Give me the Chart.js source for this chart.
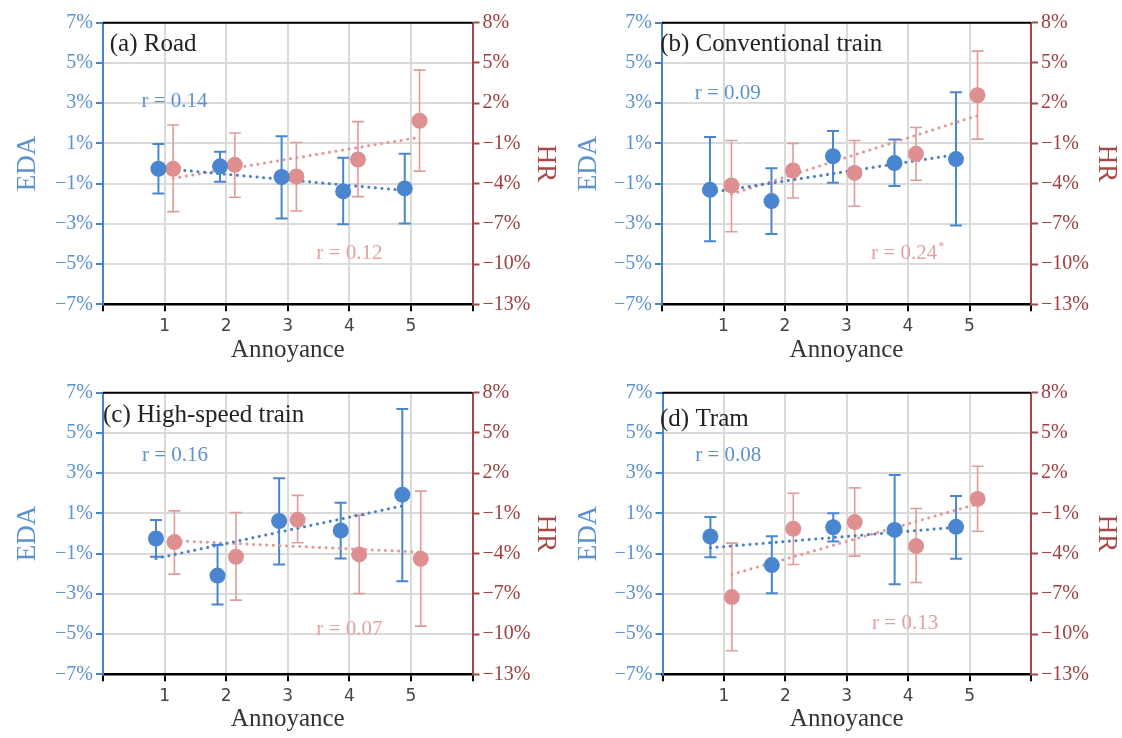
<!DOCTYPE html>
<html>
<head>
<meta charset="utf-8">
<script src="https://cdn.jsdelivr.net/npm/chart.js@4.4.1/dist/chart.umd.min.js"></script>
<style>
  html, body { margin: 0; padding: 0; background: #ffffff; }
  #wrap { position: relative; width: 1122px; height: 738px; overflow: hidden; }
  .panel { position: absolute; width: 561px; height: 369px; }
  .panel canvas { display: block; }
</style>
</head>
<body>
<div id="wrap">
  <div class="panel" style="left:0px;top:0px"><canvas id="road" width="561" height="369"></canvas></div>
  <div class="panel" style="left:561px;top:0px"><canvas id="conv" width="561" height="369"></canvas></div>
  <div class="panel" style="left:0px;top:369px"><canvas id="hst" width="561" height="369"></canvas></div>
  <div class="panel" style="left:561px;top:369px"><canvas id="tram" width="561" height="369"></canvas></div>
</div>
<script>
// Annoyance levels and axis ranges
const annoyance = [1, 2, 3, 4, 5];
const edaRange = [-7, 7];
const hrRange = [-13, 8];

// (a) Road
const roadEda = [-0.26, -0.14, -0.67, -1.39, -1.24];
const roadEdaLow = [-1.49, -0.91, -2.73, -3.02, -2.98];
const roadEdaHigh = [0.97, 0.59, 1.35, 0.29, 0.49];
const roadHr = [-2.90, -2.60, -3.47, -2.20, 0.69];
const roadHrLow = [-6.09, -5.02, -6.04, -4.97, -3.07];
const roadHrHigh = [0.37, -0.23, -0.93, 0.62, 4.46];
const roadEdaFit = [-0.23, -1.34];
const roadHrFit = [-3.60, -0.55];
const roadR = ['0.14', '0.12'];

// (b) Conventional train
const convEda = [-1.31, -1.87, 0.36, 0.02, 0.22];
const convEdaLow = [-3.86, -3.51, -0.96, -1.12, -3.08];
const convEdaHigh = [1.32, -0.23, 1.62, 1.19, 3.54];
const convHr = [-4.14, -3.02, -3.20, -1.78, 2.59];
const convHrLow = [-7.59, -5.07, -5.69, -3.75, -0.68];
const convHrHigh = [-0.78, -1.00, -0.78, 0.19, 5.88];
const convEdaFit = [-1.44, 0.44];
const convHrFit = [-4.79, 1.07];
const convR = ['0.09', '0.24'];

// (c) High-speed train
const hstEda = [-0.25, -2.09, 0.62, 0.15, 1.93];
const hstEdaLow = [-1.16, -3.53, -1.54, -1.24, -2.37];
const hstEdaHigh = [0.67, -0.56, 2.75, 1.53, 6.19];
const hstHr = [-3.14, -4.24, -1.48, -4.06, -4.39];
const hstHrLow = [-5.53, -7.47, -3.19, -6.98, -9.41];
const hstHrHigh = [-0.81, -0.93, 0.34, -1.15, 0.66];
const hstEdaFit = [-1.24, 1.37];
const hstHrFit = [-3.04, -3.89];
const hstR = ['0.16', '0.07'];

// (d) Tram
const tramEda = [-0.15, -1.57, 0.31, 0.18, 0.33];
const tramEdaLow = [-1.18, -2.97, -0.40, -2.52, -1.26];
const tramEdaHigh = [0.82, -0.14, 1.01, 2.91, 1.87];
const tramHr = [-7.24, -2.15, -1.65, -3.44, 0.08];
const tramHrLow = [-11.24, -4.81, -4.19, -6.15, -2.33];
const tramHrHigh = [-3.22, 0.50, 0.90, -0.64, 2.51];
const tramEdaFit = [-0.71, 0.31];
const tramHrFit = [-5.55, -0.29];
const tramR = ['0.08', '0.13'];

// Colours and fonts
const SERIF = '"Liberation Serif", "Times New Roman", serif';
const SANS = '"DejaVu Sans", "Liberation Sans", sans-serif';
const BLUE_AXIS = '#4a83c6';
const BLUE_TEXT = '#5b91d0';
const BLUE_MARK = '#4a86cf';
const BLUE_FIT = '#4a7fc6';
const RED_AXIS = '#a24848';
const RED_TEXT = '#9e4040';
const PINK_MARK = '#de9090';
const PINK_BAR = '#e09c9c';
const PINK_FIT = '#e39898';
const PINK_TEXT = '#e2a2a2';
const GRID = '#dadada';

const pct = v => (v < 0 ? '\u2212' + Math.abs(v) : String(v)) + '%';

// Vertical error bars with caps, drawn underneath the markers
const errorBars = {
  id: 'errorBars',
  beforeDatasetsDraw(chart) {
    const ctx = chart.ctx;
    chart.data.datasets.forEach((ds, i) => {
      if (!ds.errorLow) return;
      const meta = chart.getDatasetMeta(i);
      const xs = chart.scales[meta.xAxisID];
      const ys = chart.scales[meta.yAxisID];
      ctx.save();
      ctx.strokeStyle = ds.errorColor;
      ctx.lineWidth = ds.errorWidth;
      ds.data.forEach((pt, j) => {
        const px = xs.getPixelForValue(pt.x);
        const lo = ys.getPixelForValue(ds.errorLow[j]);
        const hi = ys.getPixelForValue(ds.errorHigh[j]);
        ctx.beginPath();
        ctx.moveTo(px, lo); ctx.lineTo(px, hi);
        ctx.moveTo(px - 6, lo); ctx.lineTo(px + 6, lo);
        ctx.moveTo(px - 6, hi); ctx.lineTo(px + 6, hi);
        ctx.stroke();
      });
      ctx.restore();
    });
  }
};

// Black top frame line of the plot area
const topFrame = {
  id: 'topFrame',
  afterDatasetsDraw(chart) {
    const { ctx, chartArea: a } = chart;
    ctx.save();
    ctx.strokeStyle = '#000';
    ctx.lineWidth = 2;
    ctx.beginPath();
    ctx.moveTo(a.left, a.top);
    ctx.lineTo(a.right, a.top);
    ctx.stroke();
    ctx.restore();
  }
};

// Panel title and correlation labels, placed in data coordinates
const panelText = {
  id: 'panelText',
  afterDraw(chart, args, opts) {
    const ctx = chart.ctx;
    const xs = chart.scales.x, ys = chart.scales.y;
    ctx.save();
    ctx.textBaseline = 'middle';
    (opts.items || []).forEach(it => {
      ctx.font = it.size + 'px ' + SERIF;
      ctx.fillStyle = it.color;
      ctx.textAlign = it.align || 'center';
      const px = xs.getPixelForValue(it.x);
      const py = ys.getPixelForValue(it.y);
      ctx.fillText(it.text, px, py);
      if (it.sup) {
        const w = ctx.measureText(it.text).width;
        const startX = it.align === 'left' ? px : px - w / 2;
        ctx.font = Math.round(it.size * 0.55) + 'px ' + SERIF;
        ctx.textAlign = 'left';
        ctx.fillText(it.sup, startX + w + 1, py - it.size * 0.3);
      }
    });
    ctx.restore();
  }
};

function buildPanel(canvasId, d, p) {
  const shifted = (vals, shift) => annoyance.map((a, i) => ({ x: a + shift, y: vals[i] }));
  const ends = (vals, shift) => [
    { x: annoyance[0] + shift, y: vals[0] },
    { x: annoyance[annoyance.length - 1] + shift, y: vals[1] }
  ];
  return new Chart(document.getElementById(canvasId), {
    type: 'scatter',
    data: {
      datasets: [
        {
          type: 'line', data: ends(d.hrFit, p.hrShift), yAxisID: 'y1',
          borderColor: PINK_FIT, borderWidth: 3, borderDash: [0.1, 6.5], borderCapStyle: 'round',
          pointRadius: 0, fill: false, order: 3
        },
        {
          type: 'line', data: ends(d.edaFit, p.edaShift), yAxisID: 'y',
          borderColor: BLUE_FIT, borderWidth: 3, borderDash: [0.1, 6.5], borderCapStyle: 'round',
          pointRadius: 0, fill: false, order: 2
        },
        {
          label: 'HR', data: shifted(d.hr, p.hrShift), yAxisID: 'y1',
          errorLow: d.hrLow, errorHigh: d.hrHigh, errorColor: PINK_BAR, errorWidth: 1.6,
          pointRadius: 8, pointBackgroundColor: PINK_MARK, pointBorderWidth: 0, order: 1
        },
        {
          label: 'EDA', data: shifted(d.eda, p.edaShift), yAxisID: 'y',
          errorLow: d.edaLow, errorHigh: d.edaHigh, errorColor: BLUE_MARK, errorWidth: 2,
          pointRadius: 8, pointBackgroundColor: BLUE_MARK, pointBorderWidth: 0, order: 0
        }
      ]
    },
    options: {
      responsive: false,
      animation: false,
      events: [],
      layout: { padding: { top: p.top, left: 0, right: 0, bottom: 0 } },
      plugins: {
        legend: { display: false },
        tooltip: { enabled: false },
        panelText: { items: p.texts }
      },
      scales: {
        x: {
          type: 'linear', min: 0, max: 6,
          ticks: {
            stepSize: 1,
            callback: v => (v >= annoyance[0] && v <= annoyance[annoyance.length - 1]) ? String(v) : '',
            color: '#444', font: { family: SANS, size: 17 }, padding: 5, maxRotation: 0
          },
          grid: {
            color: c => (c.tick && c.tick.value > 0 && c.tick.value < 6) ? GRID : 'rgba(0,0,0,0)',
            lineWidth: 2, tickColor: '#000', tickLength: 7, tickWidth: 2
          },
          border: { color: '#000', width: 2.5 },
          title: {
            display: true, text: 'Annoyance', color: '#333',
            font: { family: SERIF, size: 25 }, padding: { top: 0, bottom: 4 }
          },
          afterFit: s => { s.height = p.xh; }
        },
        y: {
          position: 'left', min: edaRange[0], max: edaRange[1],
          ticks: { stepSize: 2, callback: v => pct(v), color: BLUE_TEXT, font: { family: SERIF, size: 20 }, padding: 3 },
          grid: { color: GRID, lineWidth: 2, tickColor: BLUE_AXIS, tickLength: 7, tickWidth: 2 },
          border: { color: BLUE_AXIS, width: 2 },
          title: {
            display: true, text: 'EDA', color: BLUE_TEXT,
            font: { family: SERIF, size: 27 }, padding: { top: 12, bottom: 0 }
          },
          afterFit: s => { s.width = p.left; }
        },
        y1: {
          position: 'right', min: hrRange[0], max: hrRange[1],
          ticks: { stepSize: 3, callback: v => pct(v), color: RED_TEXT, font: { family: SERIF, size: 20 }, padding: 3 },
          grid: { drawOnChartArea: false, tickColor: RED_AXIS, tickLength: 7, tickWidth: 2 },
          border: { color: RED_AXIS, width: 2 },
          title: {
            display: true, text: 'HR', color: '#a84848',
            font: { family: SERIF, size: 27 }, padding: { top: 0, bottom: 0 }
          },
          afterFit: s => { s.width = p.right; }
        }
      }
    },
    plugins: [errorBars, topFrame, panelText]
  });
}

function panelData(eda, edaLow, edaHigh, hr, hrLow, hrHigh, edaFit, hrFit) {
  return { eda, edaLow, edaHigh, hr, hrLow, hrHigh, edaFit, hrFit };
}

const rText = v => 'r = ' + v;

buildPanel('road',
  panelData(roadEda, roadEdaLow, roadEdaHigh, roadHr, roadHrLow, roadHrHigh, roadEdaFit, roadHrFit),
  { top: 22.7, left: 103, right: 88.5, xh: 64.7, edaShift: -0.10, hrShift: 0.14,
    texts: [
      { text: '(a) Road', x: 0.11, y: 5.94, size: 25, color: '#222', align: 'left' },
      { text: rText(roadR[0]), x: 1.16, y: 3.07, size: 21, color: BLUE_TEXT },
      { text: rText(roadR[1]), x: 4.0, y: -4.46, size: 21, color: PINK_TEXT }
    ] });

buildPanel('conv',
  panelData(convEda, convEdaLow, convEdaHigh, convHr, convHrLow, convHrHigh, convEdaFit, convHrFit),
  { top: 22.7, left: 101, right: 91, xh: 64.7, edaShift: -0.22, hrShift: 0.13,
    texts: [
      { text: '(b) Conventional train', x: -0.03, y: 5.94, size: 25, color: '#222', align: 'left' },
      { text: rText(convR[0]), x: 1.07, y: 3.49, size: 21, color: BLUE_TEXT },
      { text: rText(convR[1]), x: 3.4, y: -4.46, size: 21, color: PINK_TEXT, align: 'left', sup: '*' }
    ] });

buildPanel('hst',
  panelData(hstEda, hstEdaLow, hstEdaHigh, hstHr, hstHrLow, hstHrHigh, hstEdaFit, hstHrFit),
  { top: 23.7, left: 103, right: 88.5, xh: 63.7, edaShift: -0.14, hrShift: 0.16,
    texts: [
      { text: '(c) High-speed train', x: 0.0, y: 5.87, size: 25, color: '#222', align: 'left' },
      { text: rText(hstR[0]), x: 1.17, y: 3.9, size: 21, color: BLUE_TEXT },
      { text: rText(hstR[1]), x: 4.0, y: -4.77, size: 21, color: PINK_TEXT }
    ] });

buildPanel('tram',
  panelData(tramEda, tramEdaLow, tramEdaHigh, tramHr, tramHrLow, tramHrHigh, tramEdaFit, tramHrFit),
  { top: 23.7, left: 101.5, right: 91, xh: 63.7, edaShift: -0.22, hrShift: 0.13,
    texts: [
      { text: '(d) Tram', x: -0.04, y: 5.69, size: 25, color: '#222', align: 'left' },
      { text: rText(tramR[0]), x: 1.07, y: 3.9, size: 21, color: BLUE_TEXT },
      { text: rText(tramR[1]), x: 3.95, y: -4.47, size: 21, color: PINK_TEXT }
    ] });
</script>
</body>
</html>
